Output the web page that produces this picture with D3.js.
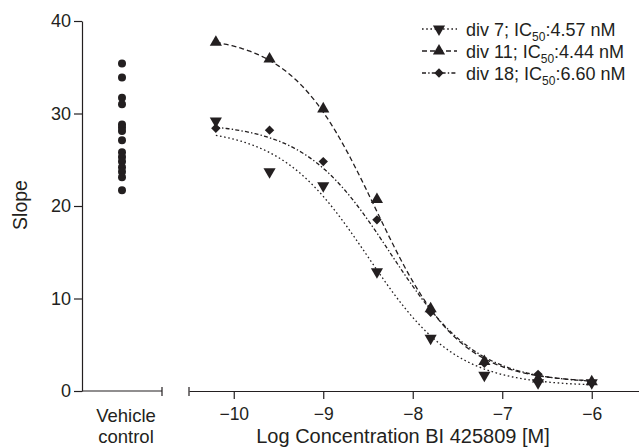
<!DOCTYPE html>
<html>
<head>
<meta charset="utf-8">
<script src="https://cdn.jsdelivr.net/npm/d3@7"></script>
<style>
  body { margin: 0; background: #fff; }
  text { font-family: "Liberation Sans", Arial, sans-serif; fill: #231f20; }
</style>
</head>
<body>
<svg></svg>
<script>
// concentrations (log M) used for every series
var logConc = [-10.2, -9.6, -9.0, -8.4, -7.8, -7.2, -6.6, -6.0];

// slope values
var div7 = [29.2, 23.7, 22.2, 12.9, 5.7, 1.7, 0.9, 0.9];
var div11 = [37.7, 35.9, 30.5, 20.7, 8.9, 3.2, 1.3, 1.0];
var div18 = [28.4, 28.2, 24.8, 18.5, 8.5, 3.0, 1.8, 0.9];

// vehicle control scatter
var vehicle = [35.4, 33.9, 31.7, 31.0, 28.8, 28.5, 28.1, 27.1, 25.8, 25.3, 24.8, 24.2, 23.7, 23.1, 21.7];

// fitted curve parameters (top, bottom, logIC50, hill)
var seriesNames = ["div 7", "div 11", "div 18"];
var ic50Labels = ["4.57", "4.44", "6.60"];
var fitTop = [28.5, 38.5, 29.0];
var fitBottom = [0.5, 0.9, 0.8];
var fitLogIC50 = [-8.50, -8.415, -8.25];
var fitHill = [0.88, 0.93, 0.90];

var xTicks = [-10, -9, -8, -7, -6];
var yTicks = [0, 10, 20, 30, 40];

var screen = {width: 639, height: 448};
var ink = "#231f20";

var svg = d3.select("svg")
    .attr("width", screen.width)
    .attr("height", screen.height);

var xScale = d3.scaleLinear()
    .domain([-10.5, -5.472])
    .range([189, 639]);

var yScale = d3.scaleLinear()
    .domain([0, 40])
    .range([391, 21]);

var vehicleScale = d3.scalePoint()
    .domain(["Vehicle control"])
    .range([82, 162])
    .padding(0.5);

var makeTranslateString = function(x, y)
{
    return "translate(" + x + "," + y + ")";
}

// symbols for each series
var symbols = [
    d3.symbol().type(d3.symbolTriangle).size(64),
    d3.symbol().type(d3.symbolTriangle).size(64),
    d3.symbol().type(d3.symbolSquare).size(44)
];
var symbolRotate = [180, 0, 45];
var dashes = ["1.6,2.6", "5,3", "4,2.2,1.4,2.2"];

var drawAxes = function()
{
    // y axis
    var yAxis = d3.axisLeft(yScale)
        .tickValues(yTicks)
        .tickSize(8)
        .tickSizeOuter(0)
        .tickPadding(3);
    var gy = svg.append("g")
        .attr("transform", makeTranslateString(82, 0))
        .call(yAxis);
    gy.select(".domain").attr("stroke", ink).attr("stroke-width", 1.2);
    gy.selectAll(".tick line").attr("stroke", ink).attr("stroke-width", 1.2);
    gy.selectAll(".tick text")
        .style("font-size", "18px")
        .style("font-family", "Liberation Sans, Arial, sans-serif")
        .attr("fill", ink);

    // vehicle segment of the x axis
    svg.append("line")
        .attr("x1", vehicleScale.range()[0]).attr("x2", vehicleScale.range()[1])
        .attr("y1", yScale(0)).attr("y2", yScale(0))
        .attr("stroke", ink).attr("stroke-width", 1.2);
    svg.append("line")
        .attr("x1", vehicleScale.range()[1]).attr("x2", vehicleScale.range()[1])
        .attr("y1", yScale(0) - 4).attr("y2", yScale(0) + 5)
        .attr("stroke", ink).attr("stroke-width", 1.2);

    var vLabel = svg.append("text")
        .attr("text-anchor", "middle")
        .style("font-size", "18.5px");
    vLabel.append("tspan")
        .attr("x", vehicleScale("Vehicle control") + 4).attr("y", 422)
        .text("Vehicle");
    vLabel.append("tspan")
        .attr("x", vehicleScale("Vehicle control") + 4).attr("y", 443)
        .text("control");

    // concentration axis
    var xAxis = d3.axisBottom(xScale)
        .tickValues(xTicks)
        .tickSize(8)
        .tickSizeOuter(0)
        .tickPadding(9)
        .tickFormat(function(d) { return "\u2212" + Math.abs(d); });
    var gx = svg.append("g")
        .attr("transform", makeTranslateString(0, yScale(0)))
        .call(xAxis);
    gx.select(".domain").attr("stroke", ink).attr("stroke-width", 1.2);
    gx.selectAll(".tick line").attr("stroke", ink).attr("stroke-width", 1.2);
    gx.selectAll(".tick text")
        .style("font-size", "17.5px")
        .style("font-family", "Liberation Sans, Arial, sans-serif")
        .attr("fill", ink);
    svg.append("line")
        .attr("x1", xScale.range()[0]).attr("x2", xScale.range()[0])
        .attr("y1", yScale(0) - 4).attr("y2", yScale(0) + 5)
        .attr("stroke", ink).attr("stroke-width", 1.2);

    // titles
    svg.append("text")
        .attr("x", 403).attr("y", 443)
        .attr("text-anchor", "middle")
        .style("font-size", "20px")
        .text("Log Concentration BI 425809 [M]");
    svg.append("text")
        .attr("transform", makeTranslateString(27, 205) + " rotate(-90)")
        .attr("text-anchor", "middle")
        .style("font-size", "19.5px")
        .text("Slope");
}

var drawVehicle = function()
{
    svg.append("g")
        .selectAll("circle")
        .data(vehicle)
        .enter()
        .append("circle")
        .attr("cx", vehicleScale("Vehicle control"))
        .attr("cy", function(d) { return yScale(d); })
        .attr("r", 4)
        .attr("fill", ink);
}

var drawSeries = function()
{
    var allSeries = [div7, div11, div18];
    var curveX = d3.range(-10.2, -5.999, 0.02);

    allSeries.forEach(function(values, i)
    {
        var fit = function(x)
        {
            return fitBottom[i] + (fitTop[i] - fitBottom[i]) /
                (1 + Math.pow(10, (x - fitLogIC50[i]) * fitHill[i]));
        };
        var lineGenerator = d3.line()
            .x(function(x) { return xScale(x); })
            .y(function(x) { return yScale(fit(x)); });

        svg.append("path")
            .datum(curveX)
            .attr("d", lineGenerator)
            .attr("fill", "none")
            .attr("stroke", ink)
            .attr("stroke-width", 1.3)
            .attr("stroke-dasharray", dashes[i]);

        svg.append("g")
            .selectAll("path")
            .data(values)
            .enter()
            .append("path")
            .attr("d", symbols[i])
            .attr("transform", function(d, j)
            {
                return makeTranslateString(xScale(logConc[j]), yScale(d)) +
                    " rotate(" + symbolRotate[i] + ")";
            })
            .attr("fill", ink);
    });
}

var drawLegend = function()
{
    var rowsY = [29, 51, 73];
    seriesNames.forEach(function(name, i)
    {
        var g = svg.append("g")
            .attr("transform", makeTranslateString(0, rowsY[i]));
        g.append("line")
            .attr("x1", 422).attr("x2", 457)
            .attr("y1", 0).attr("y2", 0)
            .attr("stroke", ink).attr("stroke-width", 1.3)
            .attr("stroke-dasharray", dashes[i]);
        g.append("path")
            .attr("d", symbols[i])
            .attr("transform", makeTranslateString(439, 0) + " rotate(" + symbolRotate[i] + ")")
            .attr("fill", ink);
        var t = g.append("text")
            .attr("x", 466).attr("y", 6.5)
            .style("font-size", "18px");
        t.append("tspan").text(name + "; IC");
        t.append("tspan").attr("dy", 5).style("font-size", "12px").text("50");
        t.append("tspan").attr("dy", -5).text(":" + ic50Labels[i] + " nM");
    });
}

drawAxes();
drawSeries();
drawVehicle();
drawLegend();
</script>
</body>
</html>
